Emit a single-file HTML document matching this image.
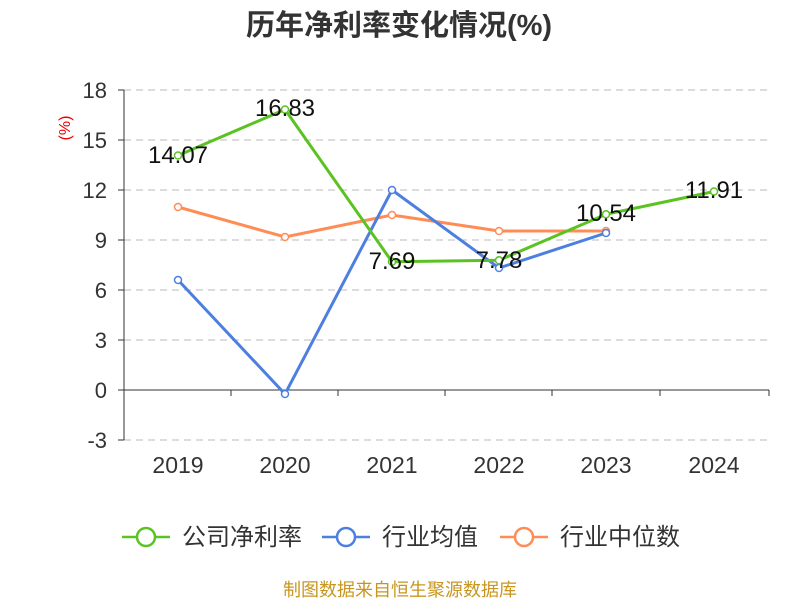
<!DOCTYPE html>
<html><head><meta charset="utf-8"><style>
body{margin:0;background:#fff;}
svg{display:block;font-family:"Liberation Sans","Noto Sans CJK SC",sans-serif;}
</style></head><body>
<svg width="800" height="600" viewBox="0 0 800 600">
<text x="399" y="35" text-anchor="middle" font-size="29" font-weight="bold" fill="#333">历年净利率变化情况(%)</text>
<text x="70" y="128" font-size="16" fill="#e00" transform="rotate(-90 70 128)" text-anchor="middle">(%)</text>
<g stroke="#bbb" stroke-dasharray="7,5" stroke-width="1">
<line x1="124" y1="90" x2="769" y2="90"/><line x1="124" y1="140" x2="769" y2="140"/>
<line x1="124" y1="190" x2="769" y2="190"/><line x1="124" y1="240" x2="769" y2="240"/>
<line x1="124" y1="290" x2="769" y2="290"/><line x1="124" y1="340" x2="769" y2="340"/>
<line x1="124" y1="440" x2="769" y2="440"/>
</g>
<g stroke="#333" stroke-width="1">
<line x1="124" y1="90" x2="124" y2="440"/>
<line x1="124" y1="390" x2="769" y2="390"/>
<line x1="118" y1="90" x2="124" y2="90"/><line x1="118" y1="140" x2="124" y2="140"/>
<line x1="118" y1="190" x2="124" y2="190"/><line x1="118" y1="240" x2="124" y2="240"/>
<line x1="118" y1="290" x2="124" y2="290"/><line x1="118" y1="340" x2="124" y2="340"/>
<line x1="118" y1="390" x2="124" y2="390"/><line x1="118" y1="440" x2="124" y2="440"/>
<line x1="231" y1="390" x2="231" y2="396"/><line x1="338" y1="390" x2="338" y2="396"/>
<line x1="445" y1="390" x2="445" y2="396"/><line x1="552" y1="390" x2="552" y2="396"/>
<line x1="660" y1="390" x2="660" y2="396"/><line x1="769" y1="390" x2="769" y2="396"/>
</g>
<g font-size="22" fill="#333" text-anchor="end">
<text x="107" y="98">18</text><text x="107" y="148">15</text><text x="107" y="198">12</text>
<text x="107" y="248">9</text><text x="107" y="298">6</text><text x="107" y="348">3</text>
<text x="107" y="398">0</text><text x="107" y="448">-3</text>
</g>
<g font-size="23" fill="#333" text-anchor="middle">
<text x="178" y="473">2019</text><text x="285" y="473">2020</text><text x="392" y="473">2021</text>
<text x="499" y="473">2022</text><text x="606" y="473">2023</text><text x="714" y="473">2024</text>
</g>
<g fill="none" stroke-width="3">
<polyline stroke="#ff8c55" points="178,207 285,237 392,215 499,231 606,231"/>
<polyline stroke="#4d7fe0" points="178,280 285,394 392,190 499,268 606,233"/>
<polyline stroke="#5ac321" points="178,155.5 285,109.5 392,261.8 499,260.3 606,214.3 714,191.5"/>
</g>
<g fill="#fff" stroke-width="1.5">
<g stroke="#ff8c55"><circle cx="178" cy="207" r="3.5"/><circle cx="285" cy="237" r="3.5"/><circle cx="392" cy="215" r="3.5"/><circle cx="499" cy="231" r="3.5"/><circle cx="606" cy="231" r="3.5"/></g>
<g stroke="#4d7fe0"><circle cx="178" cy="280" r="3.5"/><circle cx="285" cy="394" r="3.5"/><circle cx="392" cy="190" r="3.5"/><circle cx="499" cy="268" r="3.5"/><circle cx="606" cy="233" r="3.5"/></g>
<g stroke="#5ac321"><circle cx="178" cy="155.5" r="3.5"/><circle cx="285" cy="109.5" r="3.5"/><circle cx="392" cy="261.8" r="3.5"/><circle cx="499" cy="260.3" r="3.5"/><circle cx="606" cy="214.3" r="3.5"/><circle cx="714" cy="191.5" r="3.5"/></g>
</g>
<g font-size="24" fill="#111" text-anchor="middle">
<text x="178" y="163">14.07</text><text x="285" y="116">16.83</text><text x="392" y="269">7.69</text>
<text x="499" y="268">7.78</text><text x="606" y="221">10.54</text><text x="714" y="198">11.91</text>
</g>
<g stroke-width="2.5" fill="#fff">
<line x1="122" y1="537" x2="170" y2="537" stroke="#5ac321"/><circle cx="146" cy="537" r="9" stroke="#5ac321"/>
<line x1="322" y1="537" x2="370" y2="537" stroke="#4d7fe0"/><circle cx="346" cy="537" r="9" stroke="#4d7fe0"/>
<line x1="500" y1="537" x2="548" y2="537" stroke="#ff8c55"/><circle cx="524" cy="537" r="9" stroke="#ff8c55"/>
</g>
<g font-size="24" fill="#333">
<text x="182" y="545">公司净利率</text><text x="382" y="545">行业均值</text><text x="560" y="545">行业中位数</text>
</g>
<text x="400" y="596" text-anchor="middle" font-size="18" fill="#c8961e">制图数据来自恒生聚源数据库</text>
</svg>
</body></html>
